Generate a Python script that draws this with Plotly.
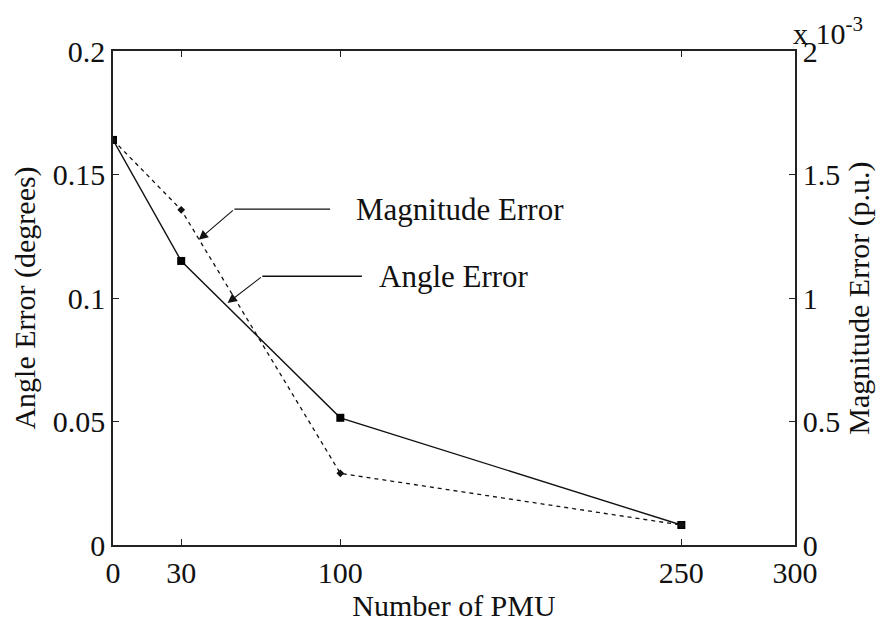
import plotly.graph_objects as go

# Data
pmu_counts = [0, 30, 100, 250]
angle_error_deg = [0.164, 0.115, 0.0515, 0.0081]
magnitude_error_pu = [1.64e-3, 1.357e-3, 0.29e-3, 0.081e-3]

x_ticks = [0, 30, 100, 250, 300]
y1_ticks = [0, 0.05, 0.1, 0.15, 0.2]
y1_ticktext = ["0", "0.05", "0.1", "0.15", "0.2"]
y2_ticks = [0, 0.5e-3, 1.0e-3, 1.5e-3, 2.0e-3]
y2_ticktext = ["0", "0.5", "1", "1.5", "2"]

FONT = "Liberation Serif"
FS = 30
FS_ANN = 31

fig = go.Figure()

fig.add_trace(go.Scatter(
    x=pmu_counts, y=magnitude_error_pu, yaxis="y2", mode="lines+markers",
    line=dict(color="#111111", width=1.3, dash="4px,4px"),
    marker=dict(symbol="diamond", size=6, color="#111111"),
    name="Magnitude Error", showlegend=False,
))
fig.add_trace(go.Scatter(
    x=pmu_counts, y=angle_error_deg, yaxis="y", mode="lines+markers",
    line=dict(color="#111111", width=1.4),
    marker=dict(symbol="square", size=8, color="#000000"),
    name="Angle Error", showlegend=False,
))

# Annotation arrows (tip -> elbow), plus horizontal leader lines
arrows = [
    # tip_x, tip_y, elbow_x, elbow_y, end_x, label, label_x
    (37.7, 0.1236, 53.4, 0.136, 95.5, "Magnitude Error", 106.0),
    (50.4, 0.0980, 65.7, 0.1088, 109.5, "Angle Error", 116.0),
]
for tx, ty, ex, ey, hx, label, lx in arrows:
    fig.add_annotation(
        x=tx, y=ty, ax=ex, ay=ey, xref="x", yref="y", axref="x", ayref="y",
        showarrow=True, arrowhead=2, arrowsize=1.7, arrowwidth=1.1,
        arrowcolor="#111111", text="",
    )
    fig.add_shape(type="line", x0=ex, y0=ey, x1=hx, y1=ey, xref="x", yref="y",
                  line=dict(color="#111111", width=1.3))
    fig.add_annotation(
        x=lx, y=ey, xref="x", yref="y", text=label, showarrow=False,
        xanchor="left", yanchor="middle",
        font=dict(family=FONT, size=FS_ANN, color="#111111"),
    )

# Exponent label for right axis
fig.add_annotation(
    x=1.0, y=1.0, xref="paper", yref="paper", xanchor="left", yanchor="bottom",
    xshift=-4, yshift=-1, showarrow=False,
    text="x 10<sup>-3</sup>",
    font=dict(family=FONT, size=FS, color="#111111"),
)

axis_common = dict(
    showgrid=False, zeroline=False, showline=True, linecolor="#222222",
    linewidth=1.5, ticks="inside", ticklen=6, tickcolor="#222222",
    tickfont=dict(family=FONT, size=FS, color="#111111"),
)

fig.update_layout(
    width=882, height=622,
    margin=dict(l=113, r=84, t=51, b=71),
    paper_bgcolor="white", plot_bgcolor="white",
    font=dict(family=FONT, size=FS, color="#111111"),
    xaxis=dict(
        range=[0, 300], tickvals=x_ticks, mirror="ticks",
        title=dict(text="Number of PMU", font=dict(family=FONT, size=FS), standoff=0),
        **axis_common,
    ),
    yaxis=dict(
        range=[0, 0.2], tickvals=y1_ticks, ticktext=y1_ticktext,
        title=dict(text="Angle Error (degrees)", font=dict(family=FONT, size=FS), standoff=8),
        **axis_common,
    ),
    yaxis2=dict(
        range=[0, 2e-3], tickvals=y2_ticks, ticktext=y2_ticktext,
        overlaying="y", side="right",
        title=dict(text="Magnitude Error (p.u.)", font=dict(family=FONT, size=FS), standoff=9),
        **axis_common,
    ),
)

fig.write_html("out.html")
